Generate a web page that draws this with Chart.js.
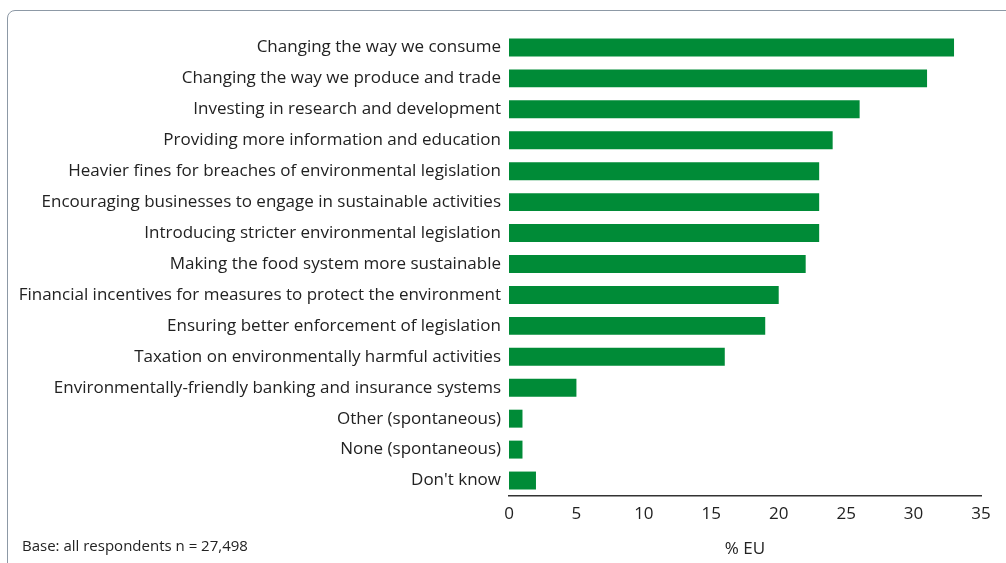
<!DOCTYPE html>
<html>
<head>
<meta charset="utf-8">
<script src="https://cdn.jsdelivr.net/npm/chart.js@4/dist/chart.umd.min.js"></script>
<style>
  html, body { margin: 0; padding: 0; background: #fff; }
  #wrap { position: relative; width: 1006px; height: 563px; overflow: hidden; }
  #frame {
    position: absolute; left: 7px; top: 10px; width: 1100px; height: 700px;
    border: 1.5px solid #8d99a6; border-radius: 8px; box-sizing: border-box;
  }
  #chart { position: absolute; left: 0; top: 0; }
  #base {
    position: absolute; left: 22px; top: 535px;
    font: 15px "Open Sans", sans-serif; color: #222;
  }
</style>
</head>
<body>
<div id="wrap">
  <div id="frame"></div>
  <canvas id="chart" width="1006" height="563"></canvas>
  <div id="base">Base: all respondents n = 27,498</div>
</div>
<script>
// 数据
const categories = [
  'Changing the way we consume',
  'Changing the way we produce and trade',
  'Investing in research and development',
  'Providing more information and education',
  'Heavier fines for breaches of environmental legislation',
  'Encouraging businesses to engage in sustainable activities',
  'Introducing stricter environmental legislation',
  'Making the food system more sustainable',
  'Financial incentives for measures to protect the environment',
  'Ensuring better enforcement of legislation',
  'Taxation on environmentally harmful activities',
  'Environmentally-friendly banking and insurance systems',
  'Other (spontaneous)',
  'None (spontaneous)',
  "Don't know"
];
const euValues = [33, 31, 26, 24, 23, 23, 23, 22, 20, 19, 16, 5, 1, 1, 2];
const xTicks = [0, 5, 10, 15, 20, 25, 30, 35];

const font = { family: '"Open Sans", sans-serif', size: 17 };

const config = {
  type: 'bar',
  data: {
    labels: categories,
    datasets: [
      {
        label: '% EU',
        data: euValues,
        backgroundColor: '#008b37',
        borderWidth: 0,
        barPercentage: 0.58,
        categoryPercentage: 1
      }
    ]
  },
  options: {
    indexAxis: 'y',
    responsive: false,
    animation: false,
    layout: { padding: { top: 32, right: 25, bottom: 0, left: 0 } },
    scales: {
      x: {
        min: 0,
        max: 35,
        afterBuildTicks: s => { s.ticks = xTicks.map(v => ({ value: v })); },
        grid: { display: false, drawTicks: false },
        border: { display: true, color: '#333', width: 1.5 },
        ticks: { color: '#222', font: font, padding: 8 },
        title: { display: true, text: '% EU', color: '#222', font: font, padding: { top: 4 } },
        afterFit: s => { s.height = 67; }
      },
      y: {
        grid: { display: false, drawTicks: false },
        border: { display: false },
        ticks: { color: '#222', font: font, padding: 8, autoSkip: false },
        afterFit: s => { s.width = 509; }
      }
    },
    plugins: {
      legend: { display: false },
      tooltip: { enabled: false }
    }
  }
};

new Chart(document.getElementById('chart'), config);
</script>
</body>
</html>
